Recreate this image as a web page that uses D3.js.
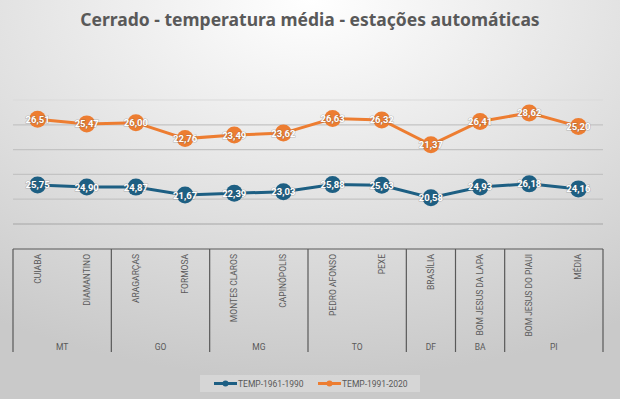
<html>
<head>
<meta charset="utf-8">
<script src="https://d3js.org/d3.v7.min.js"></script>
<style>
  body { margin: 0; }
  text { font-family: Roboto, "Noto Sans", sans-serif; }
  .title { font-family: "Noto Sans", "Liberation Sans", sans-serif; }
  .dlabel { paint-order: stroke; stroke: rgba(90,90,90,0.35); stroke-width: 1.2px; }
</style>
</head>
<body>
<svg id="chart" width="620" height="399"></svg>
<script>
  // data
  const stations = ["CUIABA", "DIAMANTINO", "ARAGARÇAS", "FORMOSA", "MONTES CLAROS", "CAPINÓPOLIS",
                    "PEDRO AFONSO", "PEXE", "BRASÍLIA", "BOM JESUS DA LAPA", "BOM JESUS DO PIAUI", "MÉDIA"];
  const states = [["MT", 2], ["GO", 2], ["MG", 2], ["TO", 2], ["DF", 1], ["BA", 1], ["PI", 2]];
  const temp6190 = [25.75, 24.90, 24.87, 21.67, 22.39, 23.03, 25.88, 25.63, 20.58, 24.93, 26.18, 24.16];
  const temp9120 = [26.51, 25.47, 26.00, 22.76, 23.49, 23.62, 26.63, 26.32, 21.37, 26.41, 28.62, 25.20];
  const seriesNames = ["TEMP-1961-1990", "TEMP-1991-2020"];
  const colors = ["#1d5f83", "#ed7d31"];
  const yTicks = [10, 20, 30, 40, 50, 60];

  const svg = d3.select("#chart");
  const width = +svg.attr("width");
  const height = +svg.attr("height");

  // background
  const defs = svg.append("defs");
  const grad = defs.append("radialGradient").attr("id", "bg")
    .attr("cx", "50%").attr("cy", "0%").attr("r", "95%");
  grad.append("stop").attr("offset", "0%").attr("stop-color", "#ffffff");
  grad.append("stop").attr("offset", "100%").attr("stop-color", "#c9c9c9");
  svg.append("rect").attr("width", width).attr("height", height).attr("fill", "url(#bg)");

  svg.append("text")
    .attr("class", "title")
    .attr("x", 310).attr("y", 26)
    .attr("text-anchor", "middle")
    .attr("font-size", 17.5).attr("font-weight", "bold")
    .attr("fill", "#595959")
    .text("Cerrado - temperatura média - estações automáticas");

  const plot = { left: 13, right: 603, top: 100, bottom: 224 };

  const x = d3.scaleBand().domain(d3.range(stations.length)).range([plot.left, plot.right]);
  const y = d3.scaleLinear().domain([10, 60]).range([plot.bottom, plot.top]);

  // gridlines
  svg.selectAll("line.grid").data(yTicks).join("line")
    .attr("class", "grid")
    .attr("x1", plot.left).attr("x2", plot.right)
    .attr("y1", d => y(d)).attr("y2", d => y(d))
    .attr("stroke", d => d === 10 ? "#a6a6a6" : d === 60 ? "#d9d9d9" : "#c3c3c3")
    .attr("stroke-width", 1.2);

  // stacked line chart
  const rows = stations.map((s, i) => ({ a: temp6190[i], b: temp9120[i] }));
  const stacked = d3.stack().keys(["a", "b"])(rows);
  const raw = [temp6190, temp9120];

  const line = d3.line()
    .x((d, i) => x(i) + x.bandwidth() / 2)
    .y(d => y(d[1]));

  const fmt = v => d3.format(".2f")(v).replace(".", ",");

  stacked.forEach((layer, k) => {
    const g = svg.append("g");
    g.append("path").datum(layer)
      .attr("fill", "none")
      .attr("stroke", colors[k])
      .attr("stroke-width", 3)
      .attr("d", line);
    g.selectAll("circle").data(layer).join("circle")
      .attr("cx", (d, i) => x(i) + x.bandwidth() / 2)
      .attr("cy", d => y(d[1]))
      .attr("r", 8.5)
      .attr("fill", colors[k]);
    g.selectAll("text").data(layer).join("text")
      .attr("class", "dlabel")
      .attr("x", (d, i) => x(i) + x.bandwidth() / 2)
      .attr("y", d => y(d[1]) + 3.5)
      .attr("text-anchor", "middle")
      .attr("font-size", 9.5).attr("font-weight", "bold")
      .attr("fill", "white")
      .text((d, i) => fmt(raw[k][i]));
  });

  // category table
  const boxTop = 249, boxBottom = 352;
  svg.append("line")
    .attr("x1", plot.left).attr("x2", plot.right)
    .attr("y1", boxTop).attr("y2", boxTop)
    .attr("stroke", "#595959").attr("stroke-width", 1.2);

  let start = 0;
  const bounds = [0];
  states.forEach(s => { start += s[1]; bounds.push(start); });
  svg.selectAll("line.sep").data(bounds).join("line")
    .attr("class", "sep")
    .attr("x1", d => d === stations.length ? plot.right : x(d))
    .attr("x2", d => d === stations.length ? plot.right : x(d))
    .attr("y1", boxTop).attr("y2", boxBottom)
    .attr("stroke", "#595959").attr("stroke-width", 1.2);

  svg.selectAll("text.station").data(stations).join("text")
    .attr("class", "station")
    .attr("transform", (d, i) => "translate(" + (x(i) + x.bandwidth() / 2 + 3) + "," + (boxTop + 5) + ") rotate(-90)")
    .attr("text-anchor", "end")
    .attr("font-size", 8.5)
    .attr("fill", "#595959")
    .text(d => d);

  svg.selectAll("text.state").data(states).join("text")
    .attr("class", "state")
    .attr("x", (d, i) => (x(bounds[i]) + (bounds[i + 1] === stations.length ? plot.right : x(bounds[i + 1]))) / 2)
    .attr("y", 350)
    .attr("text-anchor", "middle")
    .attr("font-size", 8.5)
    .attr("fill", "#595959")
    .text(d => d[0]);

  // legend
  svg.append("rect")
    .attr("x", 200).attr("y", 375).attr("width", 220).attr("height", 17)
    .attr("fill", "#ffffff").attr("opacity", 0.25);
  const legX = [214, 318];
  seriesNames.forEach((name, k) => {
    const lg = svg.append("g").attr("transform", "translate(" + legX[k] + ",383.5)");
    lg.append("line").attr("x1", 0).attr("x2", 23)
      .attr("stroke", colors[k]).attr("stroke-width", 3);
    lg.append("circle").attr("cx", 11.5).attr("r", 3).attr("fill", colors[k]);
    lg.append("text").attr("x", 24).attr("y", 3.5)
      .attr("font-size", 8.5).attr("fill", "#595959")
      .text(name);
  });
</script>
</body>
</html>
